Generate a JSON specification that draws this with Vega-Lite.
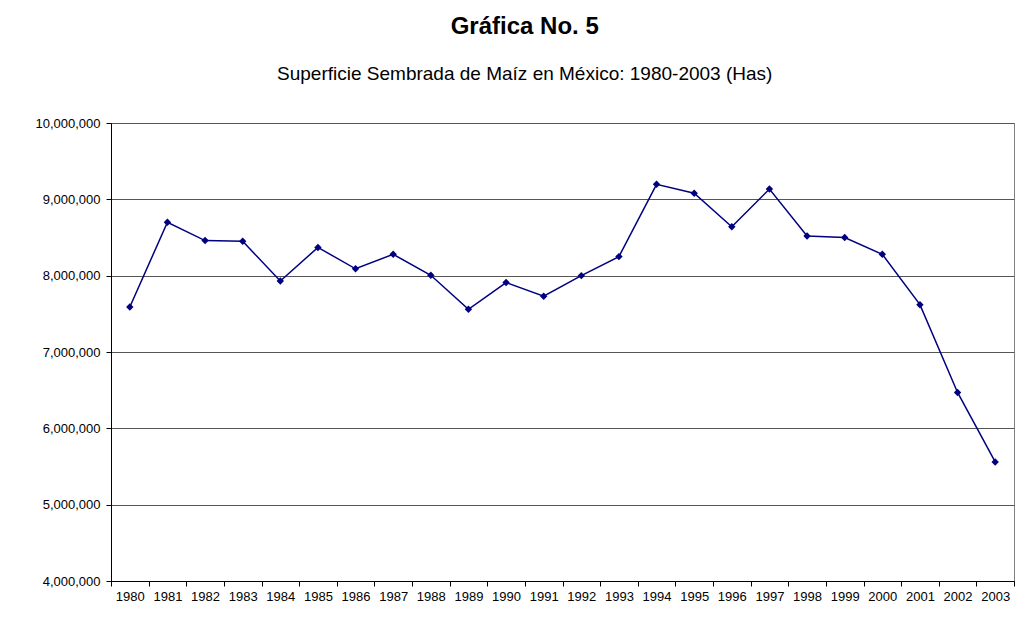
{
  "$schema": "https://vega.github.io/schema/vega-lite/v6.json",
  "width": 903,
  "height": 458,
  "padding": {"left": 34, "top": 15, "right": 5, "bottom": 5},
  "background": "white",
  "title": {
    "text": "Gráfica No. 5",
    "subtitle": "Superficie Sembrada de Maíz en México: 1980-2003 (Has)",
    "anchor": "middle",
    "frame": "bounds",
    "font": "Liberation Sans",
    "fontSize": 24,
    "fontWeight": "bold",
    "color": "black",
    "subtitleFont": "Liberation Sans",
    "subtitleFontSize": 19,
    "subtitleColor": "black",
    "subtitlePadding": 26,
    "offset": 33
  },
  "data": {
    "values": [
      {"year": "1980", "area": 7590000},
      {"year": "1981", "area": 8700000},
      {"year": "1982", "area": 8460000},
      {"year": "1983", "area": 8450000},
      {"year": "1984", "area": 7930000},
      {"year": "1985", "area": 8370000},
      {"year": "1986", "area": 8090000},
      {"year": "1987", "area": 8280000},
      {"year": "1988", "area": 8005000},
      {"year": "1989", "area": 7560000},
      {"year": "1990", "area": 7910000},
      {"year": "1991", "area": 7730000},
      {"year": "1992", "area": 8000000},
      {"year": "1993", "area": 8250000},
      {"year": "1994", "area": 9197000},
      {"year": "1995", "area": 9080000},
      {"year": "1996", "area": 8640000},
      {"year": "1997", "area": 9135000},
      {"year": "1998", "area": 8520000},
      {"year": "1999", "area": 8500000},
      {"year": "2000", "area": 8280000},
      {"year": "2001", "area": 7620000},
      {"year": "2002", "area": 6470000},
      {"year": "2003", "area": 5560000}
    ]
  },
  "encoding": {
    "x": {
      "field": "year",
      "type": "ordinal",
      "scale": {"type": "band", "paddingInner": 0, "paddingOuter": 0},
      "axis": {
        "title": null,
        "labelAngle": 0,
        "tickBand": "extent",
        "domainColor": "black",
        "tickColor": "black",
        "tickSize": 5,
        "labelFont": "Liberation Sans",
        "labelFontSize": 13,
        "labelColor": "black",
        "labelPadding": 4,
        "grid": false
      }
    },
    "y": {
      "field": "area",
      "type": "quantitative",
      "scale": {"domain": [4000000, 10000000], "nice": false, "zero": false},
      "axis": {
        "title": null,
        "values": [4000000, 5000000, 6000000, 7000000, 8000000, 9000000, 10000000],
        "format": ",d",
        "domainColor": "black",
        "tickColor": "black",
        "tickSize": 5,
        "labelFont": "Liberation Sans",
        "labelFontSize": 13,
        "labelColor": "black",
        "labelPadding": 6,
        "grid": true,
        "gridColor": "#555555",
        "gridOpacity": 1
      }
    }
  },
  "layer": [
    {"mark": {"type": "line", "color": "#000080", "strokeWidth": 1.5}},
    {"mark": {"type": "point", "shape": "diamond", "filled": true, "color": "#000080", "size": 55, "opacity": 1}}
  ],
  "config": {
    "view": {"stroke": "#808080"},
    "font": "Liberation Sans"
  }
}
